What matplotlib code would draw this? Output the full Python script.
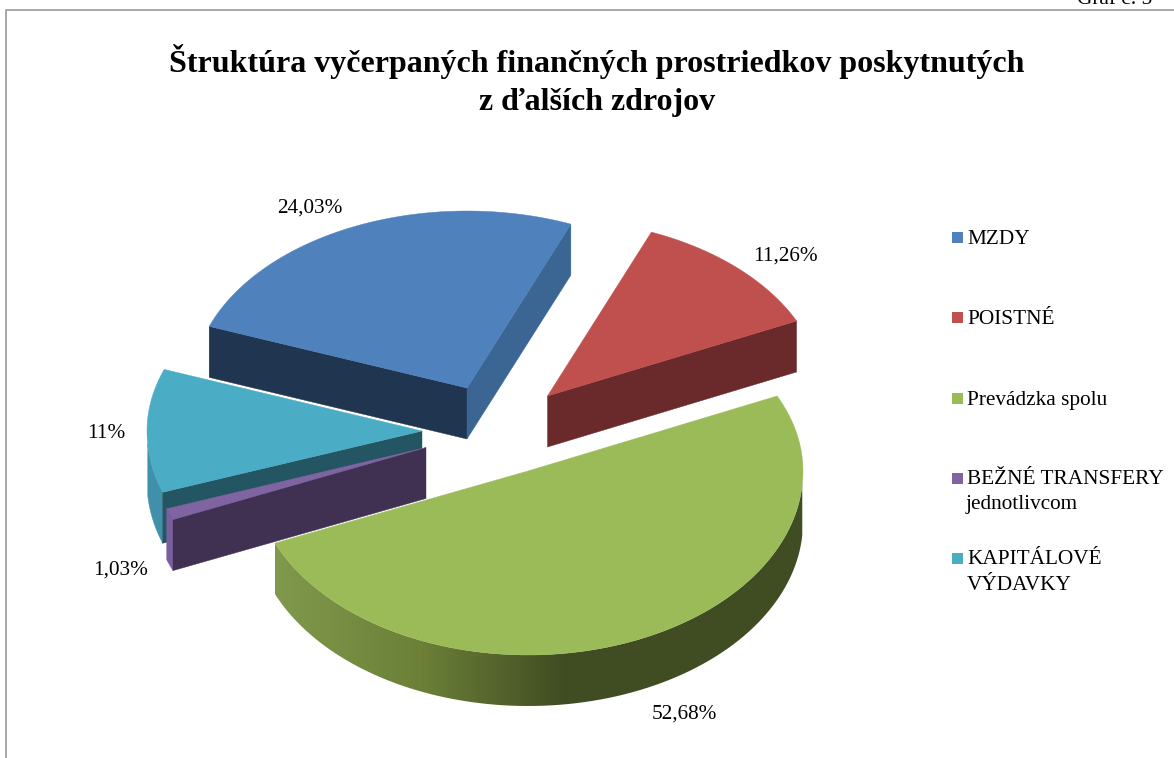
import numpy as np
import matplotlib
matplotlib.use("Agg")
import matplotlib.pyplot as plt
from matplotlib.patches import Polygon
from matplotlib.colors import LinearSegmentedColormap

# ---- data ----
categories = ["MZDY", "POISTNÉ", "Prevádzka spolu", "BEŽNÉ TRANSFERY\njednotlivcom", "KAPITÁLOVÉ\nVÝDAVKY"]
values = [24.03, 11.26, 52.68, 1.03, 11.0]
value_labels = ["24,03%", "11,26%", "52,68%", "1,03%", "11%"]
title = "Štruktúra vyčerpaných finančných prostriedkov poskytnutých\nz ďalších zdrojov"
caption = "Graf č. 5"

# ---- style ----
top_colors = ["#4F81BD", "#C0504D", "#9BBB59", "#8064A2", "#4BACC6"]
start_cut = ["#1F3550", "#6A2A2B", "#404C22", "#403152", "#235563"]
end_cut = ["#3B6694", "#6A2A2B", "#404C22", "#403152", "#235563"]
rim_colors = ["#3B6694", "#6A2A2B", None, "#7A5F9E", "#3F90A8"]
centers = [(467, 388), (547.5, 396), (528, 471), (426, 447.5), (422, 431)]
label_pos = [(310, 208), (785, 256), (684, 714), (121, 570), (106, 433)]
legend_y = [239, 319, 400, 480, 560]
draw_order = [0, 1, 4, 3, 2]
RX, RY_BACK, RY_FRONT, DEPTH = 275.0, 177.0, 184.0, 51.0
START_DEG, WARP_DEG = -65.8, 4.2
FS = 15.3

plt.rcParams["font.family"] = ["Liberation Serif", "DejaVu Serif"]
fig = plt.figure(figsize=(11.74, 7.58), dpi=100)
ax = fig.add_axes([0, 0, 1, 1])
ax.set_xlim(0, 1174)
ax.set_ylim(758, 0)
ax.axis("off")


def warp(t):
    return t + WARP_DEG * np.sin(np.radians(t))


def rim_xy(c, t):
    """Outer edge point for the angle t (deg clockwise from the top)."""
    a = np.radians(warp(np.asarray(t, float)))
    cosa = np.cos(a)
    ry = np.where(cosa > 0, RY_BACK, RY_FRONT)
    return c[0] + RX * np.sin(a), c[1] - ry * cosa


def poly(pts, color, z):
    p = Polygon(pts, closed=True, facecolor=color, edgecolor=color, lw=0.3, zorder=z)
    ax.add_patch(p)
    return p


# frame
ax.plot([6, 6, 1174], [758, 10, 10], color="#A0A0A0", lw=1.3, zorder=1)

# slices
cum = np.cumsum([0] + values)
angles = START_DEG + cum * 3.6
rim_cmap = LinearSegmentedColormap.from_list("rim", ["#80994C", "#6C8038", "#404C22"])

for k, i in enumerate(draw_order):
    z = 10 + k * 5
    c = centers[i]
    t1, t2 = angles[i], angles[i + 1]
    ts = np.linspace(t1, t2, 160)
    x, y = rim_xy(c, ts)

    # outer rim where it faces the viewer (between 90 and 270 deg)
    lo, hi = max(t1, 90), min(t2, 270)
    if lo < hi:
        tr = np.linspace(lo, hi, 160)
        rx, ry = rim_xy(c, tr)
        pts = np.r_[np.c_[rx, ry], np.c_[rx[::-1], ry[::-1] + DEPTH]]
        if rim_colors[i] is None:
            clip = poly(pts, "none", z)
            clip.set_edgecolor("none")
            grad = np.clip((np.linspace(rx.min(), rx.max(), 500) - rx.min()) / 290.0, 0, 1)
            im = ax.imshow(grad[None, :], cmap=rim_cmap, vmin=0, vmax=1, aspect="auto",
                           extent=(rx.min(), rx.max(), ry.max() + DEPTH, ry.min()), zorder=z)
            im.set_clip_path(clip)
            ax.set_xlim(0, 1174)
            ax.set_ylim(758, 0)
        else:
            poly(pts, rim_colors[i], z)

    # cut faces
    if np.sin(np.radians(t1)) < 0:
        poly([c, (x[0], y[0]), (x[0], y[0] + DEPTH), (c[0], c[1] + DEPTH)], start_cut[i], z + 1)
    if np.sin(np.radians(t2)) > 0:
        poly([c, (x[-1], y[-1]), (x[-1], y[-1] + DEPTH), (c[0], c[1] + DEPTH)], end_cut[i], z + 1)

    # top face
    poly(np.r_[[c], np.c_[x, y]], top_colors[i], z + 2)

# texts
ax.text(597, 80.5, title, ha="center", va="center", fontsize=23, fontweight="bold",
        color="black", linespacing=1.4, zorder=60)
ax.text(1077, 4, caption, ha="left", va="baseline", fontsize=FS, color="black", zorder=60)
for s, (px, py) in zip(value_labels, label_pos):
    ax.text(px, py, s, ha="center", va="center", fontsize=FS, color="black", zorder=60)

# legend
for name, col, ly in zip(categories, top_colors, legend_y):
    ax.add_patch(plt.Rectangle((952, ly - 7), 11, 11, facecolor=col, edgecolor="none", zorder=60))
    parts = name.split("\n")
    for j, part in enumerate(parts):
        ax.text(967 if j == 0 or part.isupper() else 966, ly + j * 25, part, ha="left", va="center",
                fontsize=FS, color="black", zorder=60)

fig.savefig("out.png", dpi=100, facecolor="white")
